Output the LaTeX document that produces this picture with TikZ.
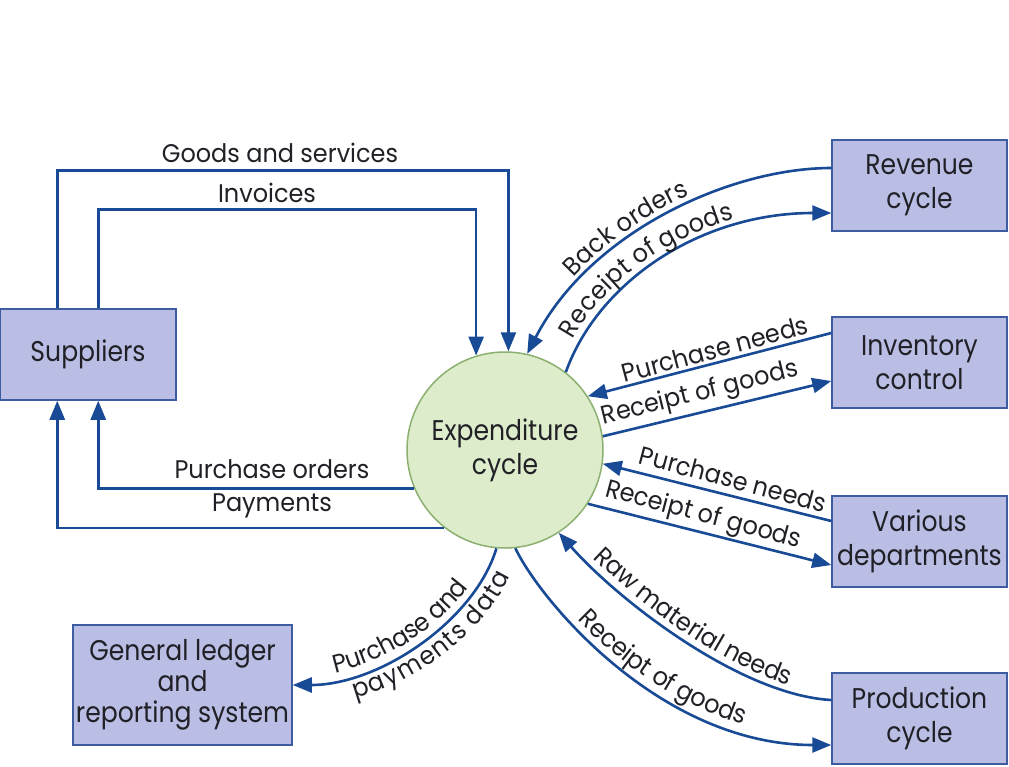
\documentclass[tikz,border=0pt]{standalone}
\usepackage{fontspec}
\setmainfont{Poppins}
\newfontfamily\boxfam[FakeStretch=0.88]{Poppins}
\newfontfamily\labfam[FakeStretch=0.94]{Poppins}
\usetikzlibrary{arrows.meta,calc,decorations.text}
\definecolor{boxfill}{RGB}{186,190,228}
\definecolor{boxdraw}{RGB}{62,92,160}
\definecolor{circfill}{RGB}{221,236,203}
\definecolor{circdraw}{RGB}{140,176,112}
\definecolor{flowc}{RGB}{24,74,150}
\definecolor{txt}{RGB}{32,32,38}
\newcommand\bxfont{\boxfam\fontsize{28.5}{34}\selectfont}
\newcommand\lbfont{\labfam\fontsize{25.5}{30}\selectfont}
\begin{document}
\begin{tikzpicture}[x=1pt,y=-1pt,
  box/.style={draw=boxdraw, fill=boxfill, line width=1.5pt, rectangle, inner sep=0pt,
              align=center, text=txt, font=\bxfont, minimum width=175pt, minimum height=91pt},
  proc/.style={circle, draw=circdraw, fill=circfill, line width=1.5pt, minimum size=196pt,
               inner sep=0pt, align=center, text=txt, font=\bxfont},
  flow/.style={draw=flowc, line width=2.6pt, -{Triangle[length=19pt,width=15pt]}},
  lbl/.style={text=txt, font=\lbfont, inner sep=0pt, align=center},
  curvetext/.style={decorate, decoration={text along path, text color=txt, #1}}
]
\useasboundingbox (0,0) rectangle (1009,766);
\fill[white] (0,0) rectangle (1009,766);

% nodes
\node[box, minimum width=176pt] (sup) at (88,354.5) {Suppliers};
\node[box] (rev) at (919.5,185.5) {Revenue\\cycle};
\node[box] (inv) at (919.5,362.5) {Inventory\\control};
\node[box] (var) at (919.5,541.5) {Various\\departments};
\node[box] (prod) at (919.5,718.5) {Production\\cycle};
\node[box, minimum width=219pt, minimum height=120pt, font=\boxfam\fontsize{28.5}{31}\selectfont] (gl) at (182.5,685) {General ledger\\and\\reporting system};
\node[proc] (exp) at (505,450) {Expenditure\\cycle};

% supplier loops
\draw[flow] ($(sup.north west)+(58,0)$) -- ++(0,-138) -| (exp.88);
\draw[flow] ($(sup.north west)+(99,0)$) -- ++(0,-99) -| (exp.107);
\draw[flow] (exp.203) -| ($(sup.south west)+(99,0)$);
\draw[flow] (exp.232) -| ($(sup.south west)+(58,0)$);

\node[lbl] (lgs) at (280,153) {Goods and services};
\node[lbl] (linv) at (267,193) {Invoices};
\node[lbl] (lpo) at (272,469) {Purchase orders};
\node[lbl] (lpay) at (272,506) {Payments};

% revenue cycle
\draw[flow] ($(rev.west)+(0,-17.5)$) .. controls (730,168) and (590,232) .. (exp.77);
\draw[flow] (exp.52) .. controls (598,282) and (700,213) .. ($(rev.west)+(0,27.5)$);
\path[curvetext={text={|\lbfont|Back orders}, raise=7pt, text align={align=left, left indent=88pt}}]
  (exp.77) .. controls (590,232) and (730,168) .. ($(rev.west)+(0,-17.5)$);
\path[curvetext={text={|\lbfont|Receipt of goods}, raise=7pt, text align={align=left, left indent=32pt}}]
  (exp.52) .. controls (598,282) and (700,213) .. ($(rev.west)+(0,27.5)$);

% inventory control
\draw[flow] ($(inv.west)+(0,-29.5)$) -- (exp.33);
\draw[flow] (exp.8) -- ($(inv.west)+(0,18.5)$);
\node[lbl, rotate=15] (lpn1) at (715,349) {Purchase needs};
\node[lbl, rotate=14] (lrg2) at (700,394) {Receipt of goods};

% various departments
\draw[flow] ($(var.west)+(0,-20.5)$) -- (exp.-8);
\draw[flow] (exp.-33) -- ($(var.west)+(0,23.5)$);
\node[lbl, rotate=-15] (lpn2) at (733,479) {Purchase needs};
\node[lbl, rotate=-15] (lrg3) at (703,516) {Receipt of goods};

% production cycle
\draw[flow] ($(prod.west)+(0,-18.5)$) .. controls (740,695) and (618,600) .. (exp.-57);
\draw[flow] (exp.-84) .. controls (540,600) and (660,745) .. ($(prod.west)+(0,26.5)$);
\path[curvetext={text={|\lbfont|Raw material needs}, raise=7pt, text align={align=left, left indent=42pt}}]
  (exp.-57) .. controls (618,600) and (740,695) .. ($(prod.west)+(0,-18.5)$);
\path[curvetext={text={|\lbfont|Receipt of goods}, raise=7pt, text align={align=left, left indent=96pt}}]
  (exp.-84) .. controls (540,600) and (660,745) .. ($(prod.west)+(0,26.5)$);

% general ledger
\draw[flow] (exp.265) .. controls (475,620) and (380,685) .. (gl.east);
\path[curvetext={text={|\lbfont|Purchase and}, raise=7pt, text align={align=left, left indent=45pt}}]
  (gl.east) .. controls (380,685) and (475,620) .. (exp.265);
\path[curvetext={text={|\lbfont|payments data}, raise=-23pt, text align={align=left, left indent=56pt}}]
  (gl.east) .. controls (380,685) and (475,620) .. (exp.265);
\end{tikzpicture}
\end{document}
